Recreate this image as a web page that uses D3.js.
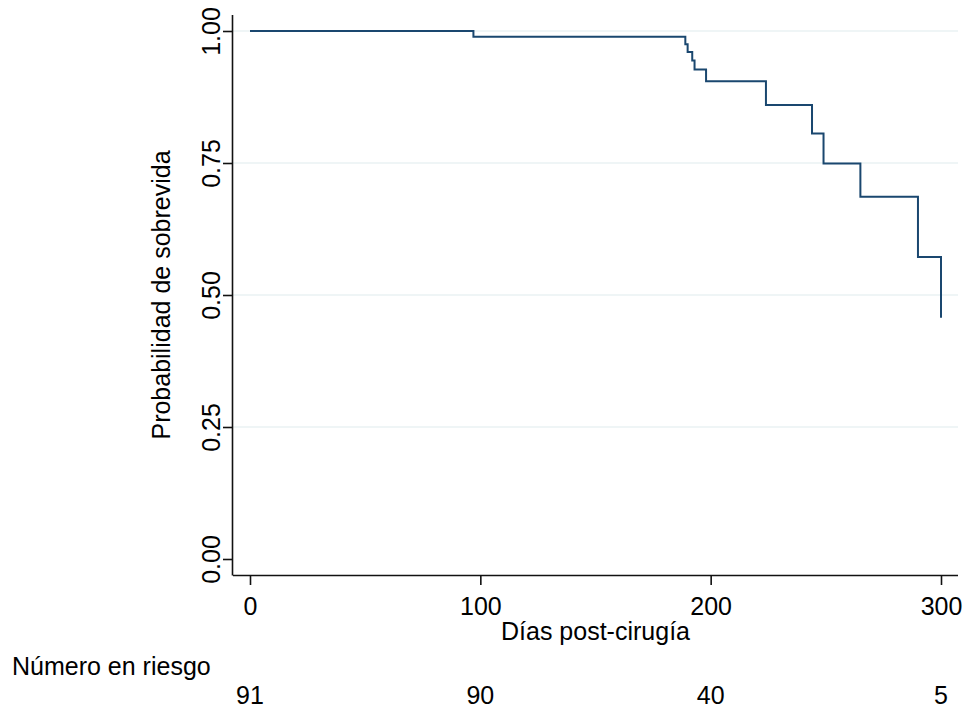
<!DOCTYPE html>
<html>
<head>
<meta charset="utf-8">
<script src="https://cdn.jsdelivr.net/npm/d3@7"></script>
<style>
  body { margin: 0; background: #fff; }
  svg { display: block; font-family: "Liberation Sans", Arial, sans-serif; }
</style>
</head>
<body>
<svg id="chart" width="966" height="713"></svg>
<script>
// Kaplan-Meier steps
var dias = [0, 97, 189, 190, 192, 193, 198, 224, 244, 249, 265, 290, 300];
var sobrevida = [1, 0.989, 0.975, 0.960, 0.944, 0.927, 0.905, 0.860, 0.806, 0.749, 0.686, 0.572, 0.457];

var xTicks = [0, 100, 200, 300];
var yTicks = [0, 0.25, 0.5, 0.75, 1];
var enRiesgo = [91, 90, 40, 5];

var svg = d3.select("#chart");
var fontSize = 25;

// plot region
var box = {left: 233, right: 958, top: 15, bottom: 575};

var x = d3.scaleLinear().domain([0, 300]).range([250, 941]);
var y = d3.scaleLinear().domain([0, 1]).range([559, 31]);

// grid lines (none at 0)
svg.append("g")
    .attr("class", "grid")
    .selectAll("line")
    .data(yTicks.filter(function (d) { return d > 0; }))
    .enter().append("line")
    .attr("x1", box.left)
    .attr("x2", box.right)
    .attr("y1", function (d) { return y(d); })
    .attr("y2", function (d) { return y(d); })
    .attr("stroke", "#eaf2f3")
    .attr("stroke-width", 1.5);

// survival curve
var pts = dias.map(function (d, i) { return [d, sobrevida[i]]; });
var line = d3.line()
    .x(function (d) { return x(d[0]); })
    .y(function (d) { return y(d[1]); })
    .curve(d3.curveStepAfter);

svg.append("path")
    .datum(pts)
    .attr("fill", "none")
    .attr("stroke", "#1a476f")
    .attr("stroke-width", 2)
    .attr("d", line);

// x axis
var xAxis = svg.append("g")
    .attr("transform", "translate(0," + box.bottom + ")")
    .call(d3.axisBottom(x).tickValues(xTicks).tickSize(10).tickSizeOuter(0).tickPadding(12));
xAxis.select(".domain").attr("d", "M" + box.left + ",0.5H" + box.right);

// y axis
var yAxis = svg.append("g")
    .attr("transform", "translate(" + box.left + ",0)")
    .call(d3.axisLeft(y).tickValues(yTicks).tickSize(10).tickSizeOuter(0)
        .tickFormat(d3.format(".2f")));
yAxis.select(".domain").attr("d", "M-0.5," + box.top + "V" + (box.bottom + 0.5));
yAxis.selectAll(".tick text")
    .attr("x", null)
    .attr("dy", null)
    .attr("text-anchor", "middle")
    .attr("transform", "translate(-13,0) rotate(-90)");

svg.selectAll(".domain, .tick line")
    .attr("stroke", "#111")
    .attr("stroke-width", 1.6);
svg.selectAll(".tick text")
    .attr("font-size", fontSize)
    .attr("font-family", "Liberation Sans, Arial, sans-serif")
    .attr("fill", "#000");

// axis titles
svg.append("text")
    .attr("x", (box.left + box.right) / 2)
    .attr("y", 640)
    .attr("text-anchor", "middle")
    .attr("font-size", fontSize)
    .text("Días post-cirugía");

svg.append("text")
    .attr("transform", "translate(170," + ((box.top + box.bottom) / 2) + ") rotate(-90)")
    .attr("text-anchor", "middle")
    .attr("font-size", fontSize)
    .text("Probabilidad de sobrevida");

// number at risk table
svg.append("text")
    .attr("x", 12)
    .attr("y", 675)
    .attr("font-size", fontSize)
    .text("Número en riesgo");

svg.append("g")
    .selectAll("text")
    .data(enRiesgo)
    .enter().append("text")
    .attr("x", function (d, i) { return x(xTicks[i]); })
    .attr("y", 704)
    .attr("text-anchor", "middle")
    .attr("font-size", fontSize)
    .text(function (d) { return d; });
</script>
</body>
</html>
